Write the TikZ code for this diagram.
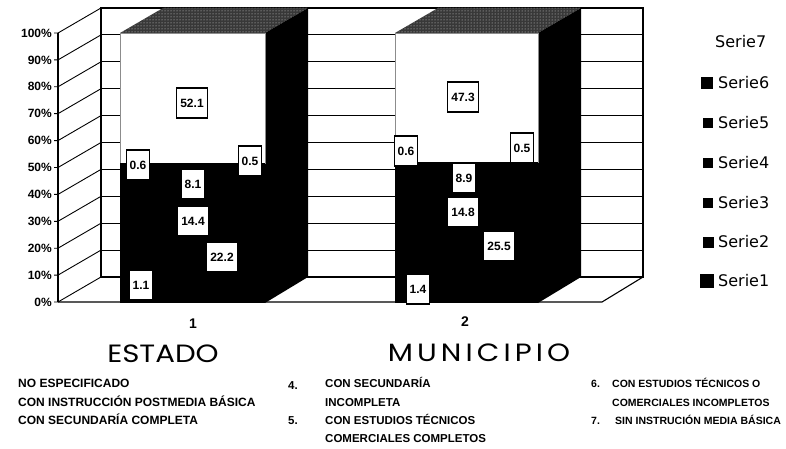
\documentclass[tikz,border=0pt]{standalone}
\usepackage{fontspec}
\setmainfont{Liberation Sans}
\newfontfamily\catfont{Poppins}
\newfontfamily\legfont{DejaVu Sans}
\usetikzlibrary{patterns}

\begin{document}
\begin{tikzpicture}[x=1pt, y=-1pt,
    gridline/.style={line width=0.9pt},
    wall/.style={line width=1.1pt},
    topface/.style={fill=black!78},
    valbox/.style={draw, line width=1.1pt, fill=white, inner xsep=3.5pt, inner ysep=0pt,
      minimum height=30pt, font=\bfseries\fontsize{12}{12}\selectfont},
    axlabel/.style={anchor=east, inner sep=0pt, font=\bfseries\fontsize{12}{12}\selectfont},
    legtext/.style={anchor=west, inner sep=0pt, font=\legfont\fontsize{16}{16}\selectfont},
    legkey/.style={fill=black, inner sep=0pt},
    catnum/.style={font=\bfseries\fontsize{14}{14}\selectfont},
    catname/.style={font=\catfont\fontsize{25}{25}\selectfont},
    note/.style={anchor=west, inner sep=0pt, text height=9pt, text depth=0pt,
      font=\bfseries\fontsize{12}{12}\selectfont},
    notemid/.style={note, font=\bfseries\fontsize{11.5}{11.5}\selectfont},
    noteright/.style={note, font=\bfseries\fontsize{10.5}{10.5}\selectfont}]
			%%%%% START %%%%%
			\useasboundingbox (0,0) rectangle (786,449);
			
			% back wall and its lines
			\draw[wall] (101,8) rectangle (643,277);
			\foreach \k in {1,...,9}
			  \draw[gridline] (101,{277-26.9*\k}) -- (643,{277-26.9*\k});
			
			% side wall, axis and floor
			\draw[wall] (58,33) -- (58,302);
			\foreach \k in {0,...,10}
			  \draw[gridline] (54,{302-26.9*\k}) -- (58,{302-26.9*\k}) -- (101,{277-26.9*\k});
			\draw[wall] (58,302) -- (602,302) -- (643,277);
			
			% bar 1
			\fill[topface] (120,33) -- (265,33) -- (308,8) -- (163,8) -- cycle;
			\fill[pattern=dots, pattern color=white!85!black] (120,33) -- (265,33) -- (308,8) -- (163,8) -- cycle;
			\fill[black] (265,33) -- (308,8) -- (308,277) -- (265,303) -- cycle;
			\draw[fill=white, draw=black!45, line width=0.4pt] (120,33) rectangle (265,163);
			\fill[black] (120,163) rectangle (265,303);
			
			% bar 2
			\fill[topface] (395,33) -- (538,33) -- (581,8) -- (438,8) -- cycle;
			\fill[pattern=dots, pattern color=white!85!black] (395,33) -- (538,33) -- (581,8) -- (438,8) -- cycle;
			\fill[black] (538,33) -- (581,8) -- (581,277) -- (538,303) -- cycle;
			\draw[fill=white, draw=black!45, line width=0.4pt] (395,33) rectangle (538,162);
			\fill[black] (395,162) rectangle (538,303);
			
			% axis labels
			\foreach \p [count=\k from 0] in {0,10,...,100}
			  \node[axlabel] (ax\p) at (52,{302-26.9*\k}) {\p\%};
			
			% values, bar 1
			\node[valbox] (e7) at (192,103) {52.1};
			\node[valbox] (e5) at (138,165) {0.6};
			\node[valbox] (e6) at (250,161) {0.5};
			\node[valbox] (e4) at (193,184) {8.1};
			\node[valbox] (e3) at (193,221) {14.4};
			\node[valbox] (e2) at (222,257) {22.2};
			\node[valbox] (e1) at (141,285) {1.1};
			
			% values, bar 2
			\node[valbox] (m7) at (463,97) {47.3};
			\node[valbox] (m5) at (406,151) {0.6};
			\node[valbox] (m6) at (522,148) {0.5};
			\node[valbox] (m4) at (464,178) {8.9};
			\node[valbox] (m3) at (463,212) {14.8};
			\node[valbox] (m2) at (499,246) {25.5};
			\node[valbox] (m1) at (418,289) {1.4};
			
			% legend
			\node[legtext] (s7) at (715,42) {Serie7};
			\node[legkey, minimum size=12pt] (k6) at (707,83) {};
			\node[legtext] (s6) at (718,83) {Serie6};
			\node[legkey, minimum size=10pt] (k5) at (708,123) {};
			\node[legtext] (s5) at (718,123) {Serie5};
			\node[legkey, minimum size=10pt] (k4) at (708,163) {};
			\node[legtext] (s4) at (718,163) {Serie4};
			\node[legkey, minimum size=10pt] (k3) at (708,203) {};
			\node[legtext] (s3) at (718,203) {Serie3};
			\node[legkey, minimum size=11pt] (k2) at (708,242) {};
			\node[legtext] (s2) at (718,242) {Serie2};
			\node[legkey, minimum size=14pt] (k1) at (707,281) {};
			\node[legtext] (s1) at (718,281) {Serie1};
			
			% categories
			\node[catnum] (c1) at (193,324) {1};
			\node[catnum] (c2) at (465,322) {2};
			\node[catname] (estado) at (163,354) {\scalebox{1.17}[1]{ESTADO}};
			\node[catname] (municipio) at (479,353) {\scalebox{1.17}[1]{\addfontfeatures{LetterSpace=14}MUNICIPIO}};
			
			% notes
			\node[note] (n1) at (18,383) {NO ESPECIFICADO};
			\node[note] (n2) at (18,402) {CON INSTRUCCIÓN POSTMEDIA BÁSICA};
			\node[note] (n3) at (18,420) {CON SECUNDARÍA COMPLETA};
			\node[notemid] (i4) at (288,385) {4.};
			\node[notemid] (n4a) at (325,383) {CON SECUNDARÍA};
			\node[notemid] (n4b) at (325,402) {INCOMPLETA};
			\node[notemid] (i5) at (288,420) {5.};
			\node[notemid] (n5a) at (325,420) {CON ESTUDIOS TÉCNICOS};
			\node[notemid] (n5b) at (325,438) {COMERCIALES COMPLETOS};
			\node[noteright] (i6) at (591,383) {6.};
			\node[noteright] (n6a) at (612,383) {CON ESTUDIOS TÉCNICOS O};
			\node[noteright] (n6b) at (612,402) {COMERCIALES INCOMPLETOS};
			\node[noteright] (i7) at (591,420) {7.};
			\node[noteright] (n7) at (615,420) {SIN INSTRUCIÓN MEDIA BÁSICA};
			
			%%%%% END %%%%%
\end{tikzpicture}
\end{document}
